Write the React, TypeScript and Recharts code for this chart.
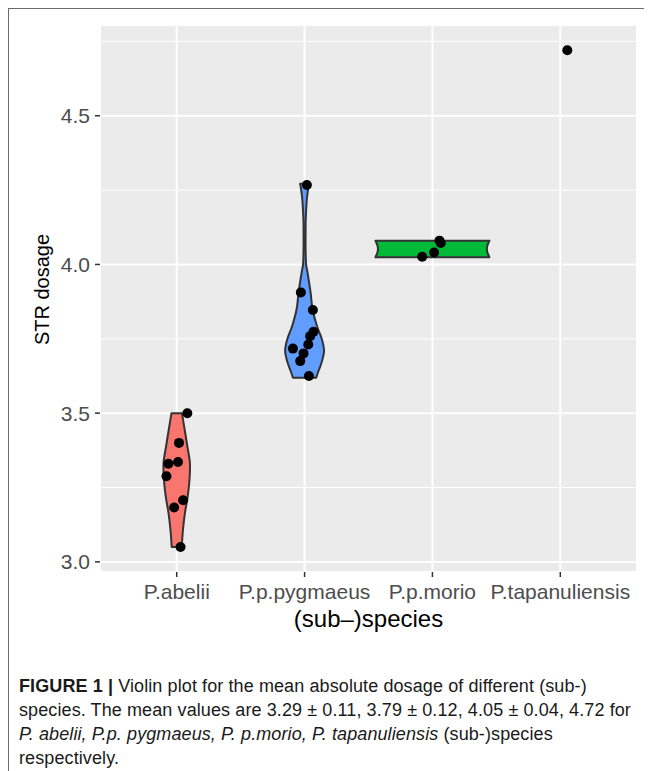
import React from 'react';
import { ComposedChart, Scatter, XAxis, YAxis, CartesianGrid, ReferenceLine } from 'recharts';

const species = ['P.abelii', 'P.p.pygmaeus', 'P.p.morio', 'P.tapanuliensis'];
const speciesTicks = [1, 2, 3, 4];
const dosageTicks = [3.0, 3.5, 4.0, 4.5];
const dosageMinorTicks = [3.25, 3.75, 4.25, 4.75];
const violinColors = ['#F8766D', '#619CFF', '#00BA38'];

// samples, x = jittered position around the species slot
const abeliiPoints = [
  { x: 1.083, y: 3.5 },
  { x: 1.018, y: 3.4 },
  { x: 0.935, y: 3.33 },
  { x: 1.01, y: 3.336 },
  { x: 0.92, y: 3.288 },
  { x: 1.05, y: 3.207 },
  { x: 0.98, y: 3.183 },
  { x: 1.03, y: 3.05 },
];
const pygmaeusPoints = [
  { x: 2.018, y: 4.267 },
  { x: 1.971, y: 3.906 },
  { x: 2.065, y: 3.847 },
  { x: 2.07, y: 3.774 },
  { x: 2.044, y: 3.759 },
  { x: 2.029, y: 3.731 },
  { x: 1.909, y: 3.717 },
  { x: 1.992, y: 3.701 },
  { x: 1.966, y: 3.675 },
  { x: 2.034, y: 3.625 },
];
const morioPoints = [
  { x: 3.055, y: 4.08 },
  { x: 3.065, y: 4.072 },
  { x: 3.013, y: 4.04 },
  { x: 2.92, y: 4.026 },
];
const tapanuliensisPoints = [{ x: 4.055, y: 4.72 }];

// violin outlines: [dosage, half width in species units], bottom to top
const abeliiViolin = [
  [3.05, 0.039], [3.108, 0.049], [3.164, 0.064], [3.22, 0.086], [3.276, 0.1],
  [3.333, 0.103], [3.389, 0.083], [3.445, 0.062], [3.5, 0.041],
];
const pygmaeusViolin = [
  [3.619, 0.091], [3.636, 0.104], [3.67, 0.133], [3.709, 0.152], [3.748, 0.136],
  [3.793, 0.097], [3.85, 0.062], [3.906, 0.047], [3.973, 0.023], [4.0, 0.012],
  [4.05, 0.008], [4.1, 0.008], [4.15, 0.009], [4.209, 0.016], [4.24, 0.023], [4.271, 0.035],
];
const morioViolin = [
  [4.024, 0.446], [4.03, 0.44], [4.04, 0.43], [4.052, 0.426], [4.064, 0.43], [4.074, 0.44], [4.08, 0.446],
];

const outline = (center: number, profile: number[][]) => [
  ...profile.map(([y, w]) => ({ x: center + w, y })),
  ...[...profile].reverse().map(([y, w]) => ({ x: center - w, y })),
];

// catmull-rom through one side of the violin
const smooth = (pts: { x: number; y: number }[]) => {
  let d = '';
  for (let i = 0; i < pts.length - 1; i++) {
    const p0 = pts[Math.max(i - 1, 0)];
    const p1 = pts[i];
    const p2 = pts[i + 1];
    const p3 = pts[Math.min(i + 2, pts.length - 1)];
    const c1x = p1.x + (p2.x - p0.x) / 6;
    const c1y = p1.y + (p2.y - p0.y) / 6;
    const c2x = p2.x - (p3.x - p1.x) / 6;
    const c2y = p2.y - (p3.y - p1.y) / 6;
    d += ` C${c1x},${c1y} ${c2x},${c2y} ${p2.x},${p2.y}`;
  }
  return d;
};

const violinLine = (fill: string) => (props: any) => {
  const pts = props.points || [];
  if (!pts.length) return <g />;
  const n = pts.length / 2;
  const right = pts.slice(0, n);
  const left = pts.slice(n);
  const d =
    `M${right[0].x},${right[0].y}` + smooth(right) +
    ` L${left[0].x},${left[0].y}` + smooth(left) + ' Z';
  return <path d={d} fill={fill} stroke="#333333" strokeWidth={2} strokeLinejoin="round" />;
};

const noDot = () => <g />;
const dot = (p: any) => <circle cx={p.cx} cy={p.cy} r={5} fill="#000" />;

const YTitle = (props: any) => {
  const vb = props.viewBox || { x: 0, y: 0, height: 0 };
  const x = vb.x + 40;
  const y = vb.y + vb.height / 2 - 9;
  return (
    <text x={x} y={y} transform={`rotate(-90, ${x}, ${y})`} textAnchor="middle" fontSize={20} fill="#000">
      STR dosage
    </text>
  );
};

export default function App() {
  return (
    <div
      style={{
        position: 'relative',
        width: 644,
        height: 763,
        boxSizing: 'border-box',
        borderTop: '1px solid #6b6b6b',
        borderLeft: '1px solid #6b6b6b',
        fontFamily: '"Liberation Sans", Arial, sans-serif',
        background: '#fff',
      }}
    >
      <ComposedChart width={643} height={640} margin={{ top: 16, right: 15, bottom: 0, left: 0 }}>
        <CartesianGrid fill="#EBEBEB" stroke="#ffffff" strokeWidth={2} />
        {dosageMinorTicks.map((v) => (
          <ReferenceLine key={v} y={v} stroke="#ffffff" strokeWidth={1} />
        ))}
        <XAxis
          type="number"
          dataKey="x"
          domain={[0.4, 4.6]}
          ticks={speciesTicks}
          interval={0}
          tickFormatter={(v) => species[v - 1]}
          axisLine={false}
          tickLine={{ stroke: '#333333', strokeWidth: 1.5 }}
          tickSize={5}
          tickMargin={7}
          tick={{ fill: '#4D4D4D', fontSize: 21 }}
          height={77}
          label={{ value: '(sub\u2013)species', position: 'insideBottom', offset: 22, style: { fontSize: 24, fill: '#000' } }}
        />
        <YAxis
          type="number"
          dataKey="y"
          domain={[2.966, 4.805]}
          ticks={dosageTicks}
          tickFormatter={(v) => Number(v).toFixed(1)}
          axisLine={false}
          tickLine={{ stroke: '#333333', strokeWidth: 1.5 }}
          tickSize={5}
          tickMargin={5}
          tick={{ fill: '#4D4D4D', fontSize: 21 }}
          width={91}
          label={<YTitle />}
        />
        <Scatter data={outline(1, abeliiViolin)} shape={noDot} line={violinLine(violinColors[0])} isAnimationActive={false} />
        <Scatter data={outline(2, pygmaeusViolin)} shape={noDot} line={violinLine(violinColors[1])} isAnimationActive={false} />
        <Scatter data={outline(3, morioViolin)} shape={noDot} line={violinLine(violinColors[2])} isAnimationActive={false} />
        <Scatter data={abeliiPoints} shape={dot} isAnimationActive={false} />
        <Scatter data={pygmaeusPoints} shape={dot} isAnimationActive={false} />
        <Scatter data={morioPoints} shape={dot} isAnimationActive={false} />
        <Scatter data={tapanuliensisPoints} shape={dot} isAnimationActive={false} />
      </ComposedChart>
      <div
        style={{
          position: 'absolute',
          left: 10,
          top: 665,
          fontSize: 18,
          letterSpacing: 0.1,
          lineHeight: '24px',
          color: '#1a1a1a',
          whiteSpace: 'nowrap',
        }}
      >
        <b>FIGURE 1 |</b> Violin plot for the mean absolute dosage of different (sub-)
        <br />
        species. The mean values are 3.29 ± 0.11, 3.79 ± 0.12, 4.05 ± 0.04, 4.72 for
        <br />
        <i>P. abelii, P.p. pygmaeus, P. p.morio, P. tapanuliensis</i> (sub-)species
        <br />
        respectively.
      </div>
    </div>
  );
}
